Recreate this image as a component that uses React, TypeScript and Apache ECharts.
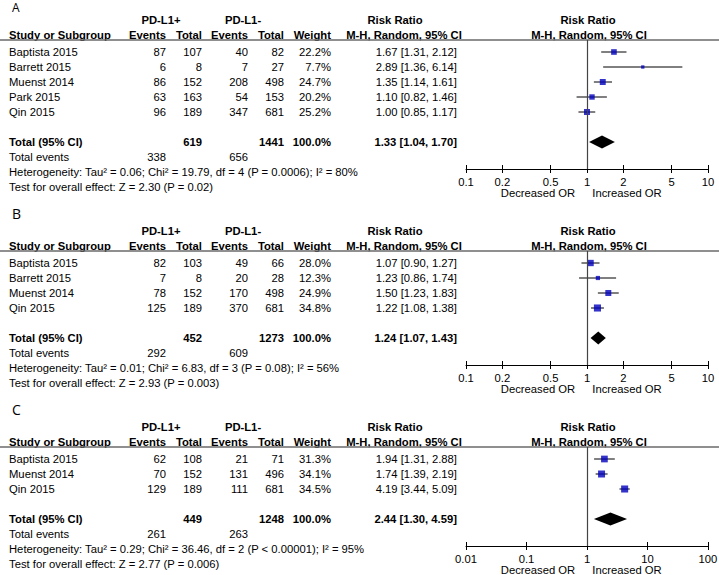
import React, { useEffect, useRef } from "react";
import * as echarts from "echarts";

const FONT = '"Liberation Sans", Arial, Helvetica, sans-serif';
const FS = 11.25;

// ---------- Panel A ----------
const studiesA = ["Baptista 2015", "Barrett 2015", "Muenst 2014", "Park 2015", "Qin 2015"];
const evPlusA = [87, 6, 86, 63, 96];
const totPlusA = [107, 8, 152, 163, 189];
const evMinusA = [40, 7, 208, 54, 347];
const totMinusA = [82, 27, 498, 153, 681];
const weightA = [22.2, 7.7, 24.7, 20.2, 25.2];
const rrA = [1.67, 2.89, 1.35, 1.1, 1.0];
const loA = [1.31, 1.36, 1.14, 0.82, 0.85];
const hiA = [2.12, 6.14, 1.61, 1.46, 1.17];
const totalA = { rr: 1.33, lo: 1.04, hi: 1.7, nPlus: 619, nMinus: 1441, evPlus: 338, evMinus: 656 };
const hetA = "Heterogeneity: Tau² = 0.06; Chi² = 19.79, df = 4 (P = 0.0006); I² = 80%";
const testA = "Test for overall effect: Z = 2.30 (P = 0.02)";
const ticksA = [0.1, 0.2, 0.5, 1, 2, 5, 10];

// ---------- Panel B ----------
const studiesB = ["Baptista 2015", "Barrett 2015", "Muenst 2014", "Qin 2015"];
const evPlusB = [82, 7, 78, 125];
const totPlusB = [103, 8, 152, 189];
const evMinusB = [49, 20, 170, 370];
const totMinusB = [66, 28, 498, 681];
const weightB = [28.0, 12.3, 24.9, 34.8];
const rrB = [1.07, 1.23, 1.5, 1.22];
const loB = [0.9, 0.86, 1.23, 1.08];
const hiB = [1.27, 1.74, 1.83, 1.38];
const totalB = { rr: 1.24, lo: 1.07, hi: 1.43, nPlus: 452, nMinus: 1273, evPlus: 292, evMinus: 609 };
const hetB = "Heterogeneity: Tau² = 0.01; Chi² = 6.83, df = 3 (P = 0.08); I² = 56%";
const testB = "Test for overall effect: Z = 2.93 (P = 0.003)";
const ticksB = [0.1, 0.2, 0.5, 1, 2, 5, 10];

// ---------- Panel C ----------
const studiesC = ["Baptista 2015", "Muenst 2014", "Qin 2015"];
const evPlusC = [62, 70, 129];
const totPlusC = [108, 152, 189];
const evMinusC = [21, 131, 111];
const totMinusC = [71, 496, 681];
const weightC = [31.3, 34.1, 34.5];
const rrC = [1.94, 1.74, 4.19];
const loC = [1.31, 1.39, 3.44];
const hiC = [2.88, 2.19, 5.09];
const totalC = { rr: 2.44, lo: 1.3, hi: 4.59, nPlus: 449, nMinus: 1248, evPlus: 261, evMinus: 263 };
const hetC = "Heterogeneity: Tau² = 0.29; Chi² = 36.46, df = 2 (P < 0.00001); I² = 95%";
const testC = "Test for overall effect: Z = 2.77 (P = 0.006)";
const ticksC = [0.01, 0.1, 1, 10, 100];

const panels = [
  { letter: "A", studies: studiesA, evPlus: evPlusA, totPlus: totPlusA, evMinus: evMinusA, totMinus: totMinusA, weight: weightA, rr: rrA, lo: loA, hi: hiA, total: totalA, het: hetA, test: testA, ticks: ticksA },
  { letter: "B", studies: studiesB, evPlus: evPlusB, totPlus: totPlusB, evMinus: evMinusB, totMinus: totMinusB, weight: weightB, rr: rrB, lo: loB, hi: hiB, total: totalB, het: hetB, test: testB, ticks: ticksB },
  { letter: "C", studies: studiesC, evPlus: evPlusC, totPlus: totPlusC, evMinus: evMinusC, totMinus: totMinusC, weight: weightC, rr: rrC, lo: loC, hi: hiC, total: totalC, het: hetC, test: testC, ticks: ticksC },
];

// ---------- layout ----------
const W = 719;
const H = 575;
const ROW = 15;
const LINE_Y = [40, 251, 447];
const LETTER_Y = [7, 213, 409];
const LETTER_SIZE = [12, 14, 14];
const PLOT_LEFT = 466;
const PLOT_W = 242;
const COL = { study: 9, evPlus: 166, totPlus: 202, evMinus: 248, totMinus: 284, weight: 331, rr: 457 };

const fmt2 = (v: number) => v.toFixed(2);
const ciText = (r: number, l: number, h: number) => `${fmt2(r)} [${fmt2(l)}, ${fmt2(h)}]`;

function txt(x: number, y: number, s: string, align = "left", bold = false, size = FS, family = FONT) {
  return {
    type: "text",
    x,
    y,
    silent: true,
    style: {
      text: s,
      textAlign: align,
      textVerticalAlign: "middle",
      font: `${bold ? "bold " : ""}${size}px ${family}`,
      fill: "#000",
    },
  };
}

function buildOption() {
  const grids: any[] = [];
  const xAxes: any[] = [];
  const yAxes: any[] = [];
  const series: any[] = [];
  const graphics: any[] = [];

  panels.forEach((p, pi) => {
    const n = p.studies.length;
    const top = LINE_Y[pi];
    const maxRow = n + 3.6;
    const height = ROW * maxRow;
    const axisY = top + height;
    const rowY = (r: number) => top + ROW * r;
    const totalRow = n + 1.8;

    grids.push({ left: PLOT_LEFT, top, width: PLOT_W, height, outerBoundsMode: "none", containLabel: false });
    const ticks = p.ticks;
    const fmt = (v: number) => {
      let best = ticks[0];
      ticks.forEach((t) => {
        if (Math.abs(Math.log(v / t)) < Math.abs(Math.log(v / best))) best = t;
      });
      return String(best);
    };
    const minT = ticks[0];
    const maxT = ticks[ticks.length - 1];
    xAxes.push({
      type: "log",
      logBase: 10,
      gridIndex: pi,
      position: "bottom",
      min: minT,
      max: maxT,
      axisLine: { show: true, onZero: false, lineStyle: { color: "#000", width: 1 } },
      axisTick: { show: true, customValues: ticks, length: 4, inside: false, lineStyle: { color: "#000", width: 1 } },
      axisLabel: { show: true, customValues: ticks, formatter: fmt, margin: 7, fontFamily: FONT, fontSize: FS, color: "#000" },
      splitLine: { show: false },
      minorTick: { show: false },
    });
    xAxes.push({
      type: "log",
      logBase: 10,
      gridIndex: pi,
      position: "bottom",
      min: minT,
      max: maxT,
      axisLine: { show: false, onZero: false },
      axisTick: { show: true, customValues: ticks, length: 4, inside: true, lineStyle: { color: "#000", width: 1 } },
      axisLabel: { show: false },
      splitLine: { show: false },
    });
    yAxes.push({ type: "value", gridIndex: pi, inverse: true, min: 0, max: maxRow, show: false });

    const xIdx = pi * 2;
    const ciData = p.rr.map((r, i) => [r, p.lo[i], p.hi[i], i + 0.8]);
    series.push({
      type: "custom",
      xAxisIndex: xIdx,
      yAxisIndex: pi,
      silent: true,
      encode: { x: [0, 1, 2], y: 3 },
      data: ciData,
      renderItem: (_params: any, api: any) => {
        const a = api.coord([api.value(1), api.value(3)]);
        const b = api.coord([api.value(2), api.value(3)]);
        return {
          type: "line",
          shape: { x1: a[0], y1: a[1], x2: b[0], y2: b[1] },
          style: { stroke: "#000", lineWidth: 1 },
        };
      },
      z: 2,
    });
    series.push({
      type: "scatter",
      xAxisIndex: xIdx,
      yAxisIndex: pi,
      silent: true,
      symbol: "rect",
      symbolSize: (v: number[]) => 1.2 * Math.sqrt(v[2]),
      itemStyle: { color: "#0000bb" },
      data: p.rr.map((r, i) => [r, i + 0.8, p.weight[i]]),
      markLine: {
        silent: true,
        symbol: "none",
        label: { show: false },
        lineStyle: { color: "#444", width: 1.2, type: "solid" },
        data: [{ xAxis: 1 }],
      },
      z: 3,
    });
    series.push({
      type: "custom",
      xAxisIndex: xIdx,
      yAxisIndex: pi,
      silent: true,
      encode: { x: [0, 1, 2], y: 3 },
      data: [[p.total.rr, p.total.lo, p.total.hi, totalRow]],
      renderItem: (_params: any, api: any) => {
        const c = api.coord([api.value(0), api.value(3)]);
        const l = api.coord([api.value(1), api.value(3)]);
        const r = api.coord([api.value(2), api.value(3)]);
        return {
          type: "polygon",
          shape: { points: [[l[0], c[1]], [c[0], c[1] - 6.5], [r[0], c[1]], [c[0], c[1] + 6.5]] },
          style: { fill: "#000" },
        };
      },
      z: 3,
    });

    // ---- table text ----
    graphics.push(txt(12, LETTER_Y[pi], p.letter, "left", false, LETTER_SIZE[pi], '"Open Sans", "Noto Sans", sans-serif'));
    graphics.push(txt(161, top - 20, "PD-L1+", "center", true));
    graphics.push(txt(243, top - 20, "PD-L1-", "center", true));
    graphics.push(txt(395, top - 20, "Risk Ratio", "center", true));
    graphics.push(txt(588, top - 20, "Risk Ratio", "center", true));
    const hy = top - 5;
    graphics.push(txt(COL.study, hy, "Study or Subgroup", "left", true));
    graphics.push(txt(COL.evPlus, hy, "Events", "right", true));
    graphics.push(txt(COL.totPlus, hy, "Total", "right", true));
    graphics.push(txt(COL.evMinus, hy, "Events", "right", true));
    graphics.push(txt(COL.totMinus, hy, "Total", "right", true));
    graphics.push(txt(COL.weight, hy, "Weight", "right", true));
    graphics.push(txt(404, hy, "M-H, Random, 95% CI", "center", true));
    graphics.push(txt(589, hy, "M-H, Random, 95% CI", "center", true));
    graphics.push({
      type: "line",
      silent: true,
      shape: { x1: 0, y1: top, x2: W, y2: top },
      style: { stroke: "#6a6a6a", lineWidth: 1.5 },
    });

    p.studies.forEach((s, i) => {
      const y = rowY(i + 0.8);
      graphics.push(txt(COL.study, y, s));
      graphics.push(txt(COL.evPlus, y, String(p.evPlus[i]), "right"));
      graphics.push(txt(COL.totPlus, y, String(p.totPlus[i]), "right"));
      graphics.push(txt(COL.evMinus, y, String(p.evMinus[i]), "right"));
      graphics.push(txt(COL.totMinus, y, String(p.totMinus[i]), "right"));
      graphics.push(txt(COL.weight, y, p.weight[i].toFixed(1) + "%", "right"));
      graphics.push(txt(COL.rr, y, ciText(p.rr[i], p.lo[i], p.hi[i]), "right"));
    });

    const ty = rowY(totalRow);
    graphics.push(txt(COL.study, ty, "Total (95% CI)", "left", true));
    graphics.push(txt(COL.totPlus, ty, String(p.total.nPlus), "right", true));
    graphics.push(txt(COL.totMinus, ty, String(p.total.nMinus), "right", true));
    graphics.push(txt(COL.weight, ty, "100.0%", "right", true));
    graphics.push(txt(COL.rr, ty, ciText(p.total.rr, p.total.lo, p.total.hi), "right", true));

    graphics.push(txt(COL.study, ty + 15, "Total events"));
    graphics.push(txt(COL.evPlus, ty + 15, String(p.total.evPlus), "right"));
    graphics.push(txt(COL.evMinus, ty + 15, String(p.total.evMinus), "right"));
    graphics.push(txt(COL.study, ty + 30, p.het));
    graphics.push(txt(COL.study, ty + 45, p.test));

    graphics.push(txt(538, axisY + 24, "Decreased OR", "center"));
    graphics.push(txt(627, axisY + 24, "Increased OR", "center"));
  });

  return {
    animation: false,
    backgroundColor: "#ffffff",
    textStyle: { fontFamily: FONT },
    grid: grids,
    xAxis: xAxes,
    yAxis: yAxes,
    series,
    graphic: { elements: graphics },
  };
}

export default function App() {
  const ref = useRef<HTMLDivElement>(null);
  useEffect(() => {
    document.body.style.margin = "0";
    if (!ref.current) return;
    const chart = echarts.init(ref.current, null, { renderer: "svg" });
    chart.setOption(buildOption() as any);
    return () => chart.dispose();
  }, []);
  return <div ref={ref} style={{ width: W, height: H }} />;
}
